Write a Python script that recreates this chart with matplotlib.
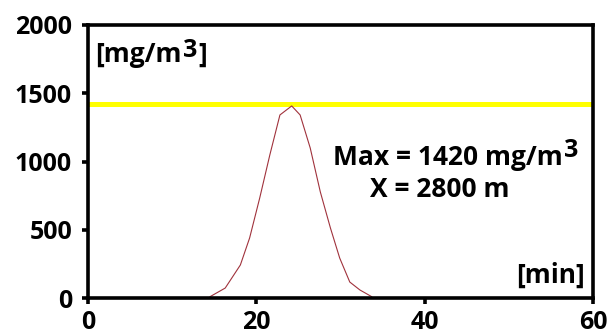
import matplotlib
matplotlib.use("Agg")
import matplotlib.pyplot as plt
from matplotlib.transforms import IdentityTransform

# concentration curve
minutes = [14.5, 16.3, 18.1, 19.2, 20.4, 21.6, 22.8, 24.2, 25.2, 26.4, 27.6, 28.8, 29.9, 31.1, 32.3, 33.7]
conc = [10, 73, 242, 440, 733, 1048, 1341, 1407, 1341, 1099, 777, 513, 293, 117, 59, 10]

max_level = 1420
x_ticks = [0, 20, 40, 60]
y_ticks = [0, 500, 1000, 1500, 2000]

plt.rcParams['font.family'] = ['Open Sans', 'DejaVu Sans']
plt.rcParams['font.weight'] = 'bold'

fig = plt.figure(figsize=(6.07, 3.35), dpi=100)
ax = fig.add_axes([0.145, 0.1104, 0.832, 0.815])

ax.axhline(max_level, color='#FFFF00', lw=3.6, zorder=1)
ax.plot(minutes, conc, color='#A0323C', lw=0.8, zorder=2)

ax.set_xlim(0, 60)
ax.set_ylim(0, 2000)
ax.set_xticks(x_ticks)
ax.set_yticks(y_ticks)
for s in ax.spines.values():
    s.set_linewidth(2.6)
ax.tick_params(axis='both', width=2.6, length=4.5, labelsize=18)
ax.tick_params(axis='y', pad=7)
ax.tick_params(axis='x', pad=4)
for lab in ax.get_xticklabels() + ax.get_yticklabels():
    lab.set_fontweight('bold')

fs = 19
txt = dict(fontsize=fs, fontweight='bold', va='baseline')

t1 = ax.text(0.014, 0.864, '[mg/m', transform=ax.transAxes, ha='left', **txt)
t2 = ax.text(0.485, 0.487, 'Max = 1420 mg/m', transform=ax.transAxes, ha='left', **txt)
ax.text(0.558, 0.370, 'X = 2800 m', transform=ax.transAxes, ha='left', **txt)
ax.text(0.984, 0.055, '[min]', transform=ax.transAxes, ha='right', **txt)

# raised full size "3" after the unit text (pixel positions)
fig.canvas.draw()
for t, rise, close in [(t1, 5, True), (t2, 8, False)]:
    x1 = t.get_window_extent().x1
    y0 = ax.transAxes.transform(t.get_position())[1]
    s = ax.text(x1 + 1, y0 + rise, '3', transform=IdentityTransform(),
                fontsize=fs - 1, fontweight='bold', ha='left', va='baseline')
    if close:
        fig.canvas.draw()
        ax.text(s.get_window_extent().x1 + 1, y0, ']', transform=IdentityTransform(),
                fontsize=fs, fontweight='bold', ha='left', va='baseline')

plt.savefig('out.png', dpi=100)
